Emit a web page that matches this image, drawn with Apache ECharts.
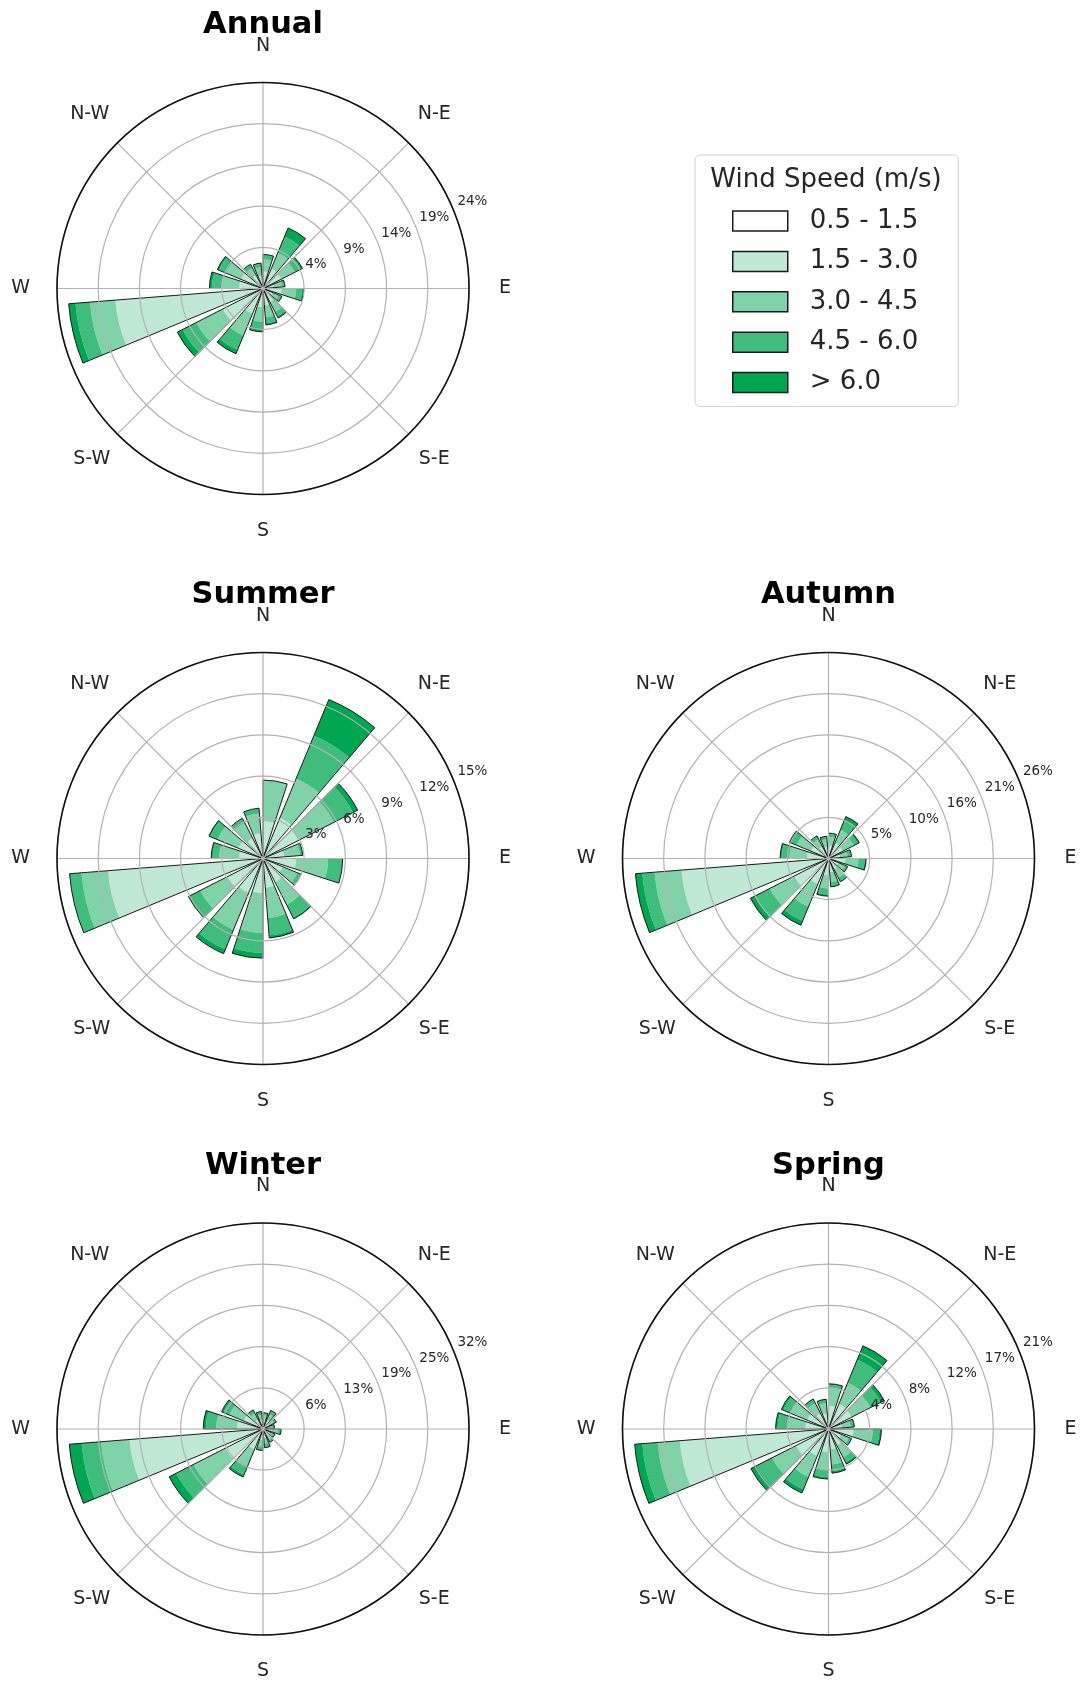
<!DOCTYPE html>
<html><head><meta charset="utf-8">
<script src="https://cdn.jsdelivr.net/npm/echarts@6/dist/echarts.min.js"></script>
<style>html,body{margin:0;padding:0;background:#fff}#c{width:1081px;height:1681px}</style>
</head><body><div id="c"></div>
<script>
// ---------- data ----------
const speedBins = ['0.5 - 1.5', '1.5 - 3.0', '3.0 - 4.5', '4.5 - 6.0', '> 6.0'];
const binColors = ['#ffffff', '#bfe9d4', '#80d3a8', '#40bc7d', '#00a651'];
const directionNames = ['N','NNE','NE','ENE','E','ESE','SE','SSE','S','SSW','SW','WSW','W','WNW','NW','NNW'];
const directionDeg = [0,22.5,45,67.5,90,112.5,135,157.5,180,202.5,225,247.5,270,292.5,315,337.5];
const compassLabels = {N:'N', NE:'N-E', E:'E', SE:'S-E', S:'S', SW:'S-W', W:'W', NW:'N-W'};
const roseTitles = ['Annual', 'Summer', 'Autumn', 'Winter', 'Spring'];
const radiusMax = [24.2, 15.5, 26.8, 31.7, 21.4];
const annualTicks = ['4%','9%','14%','19%','24%'];
const summerTicks = ['3%','6%','9%','12%','15%'];
const autumnTicks = ['5%','10%','16%','21%','26%'];
const winterTicks = ['6%','13%','19%','25%','32%'];
const springTicks = ['4%','8%','12%','17%','21%'];

// frequencies (%) per direction (N, NNE, ... NNW) for each speed bin
const annualB1 = [0.2,0.2,0.2,0.1,0.2,0.1,0.2,0.2,0.2,0.2,0.3,0.3,0.2,0.2,0.2,0.1];
const annualB2 = [1.8,2.3,2.2,1.2,2.0,1.1,1.6,1.8,2.0,3.0,5.0,17.1,2.6,2.6,1.5,1.4];
const annualB3 = [1.4,2.0,1.8,0.9,1.7,0.8,1.3,1.4,1.7,2.8,3.5,3.0,2.1,1.9,1.0,1.0];
const annualB4 = [0.5,2.1,0.8,0.3,0.7,0.3,0.6,0.7,0.9,1.8,1.8,1.7,1.1,0.9,0.4,0.4];
const annualB5 = [0.1,1.1,0.2,0.1,0.2,0.1,0.2,0.2,0.3,0.5,0.7,0.8,0.3,0.2,0.1,0.1];

const summerB1 = [0.2,0.2,0.2,0.2,0.2,0.2,0.2,0.2,0.2,0.2,0.2,0.2,0.2,0.2,0.2,0.2];
const summerB2 = [2.6,3.1,2.8,1.4,2.3,1.4,1.8,2.0,2.4,2.6,2.8,11.5,1.6,1.8,1.5,1.7];
const summerB3 = [3.1,3.2,3.0,1.2,2.4,1.2,1.9,2.3,3.0,3.0,2.3,2.0,1.5,1.7,1.3,1.5];
const summerB4 = [0.0,3.5,1.6,0.2,1.1,0.3,1.1,1.3,1.5,1.6,0.9,0.9,0.5,0.6,0.4,0.4];
const summerB5 = [0.0,2.95,0.4,0.0,0.0,0.0,0.1,0.2,0.4,0.35,0.1,0.0,0.1,0.1,0.0,0.0];

const autumnB1 = [0.2,0.2,0.2,0.2,0.2,0.2,0.2,0.2,0.2,0.2,0.2,0.2,0.2,0.2,0.2,0.2];
const autumnB2 = [1.5,2.0,1.9,1.3,2.0,1.2,1.4,1.6,2.0,3.4,4.8,19.0,2.6,2.3,1.5,1.3];
const autumnB3 = [1.1,1.8,1.6,1.0,1.7,0.9,1.2,1.3,1.7,3.2,3.6,3.5,2.3,2.0,1.1,1.0];
const autumnB4 = [0.4,1.4,0.6,0.4,0.8,0.3,0.5,0.5,0.8,2.0,2.1,1.6,1.0,0.8,0.4,0.3];
const autumnB5 = [0.1,0.5,0.2,0.1,0.2,0.1,0.1,0.1,0.2,0.6,0.7,0.9,0.2,0.2,0.1,0.1];

const winterB1 = [0.2,0.2,0.2,0.1,0.2,0.1,0.2,0.2,0.2,0.2,0.3,0.3,0.2,0.2,0.2,0.2];
const winterB2 = [1.1,1.3,1.0,0.8,1.2,0.9,1.0,1.2,1.4,3.2,6.2,20.3,3.8,3.0,1.5,1.2];
const winterB3 = [0.8,1.0,0.7,0.6,0.9,0.7,0.7,0.9,1.1,2.8,5.5,4.4,3.2,2.4,1.0,0.8];
const winterB4 = [0.3,0.45,0.3,0.25,0.4,0.25,0.3,0.45,0.45,1.4,3.0,3.0,1.6,1.0,0.45,0.4];
const winterB5 = [0.1,0.15,0.1,0.05,0.1,0.05,0.1,0.15,0.15,0.4,1.2,1.9,0.4,0.3,0.15,0.1];

const springB1 = [0.2,0.2,0.2,0.2,0.2,0.2,0.2,0.2,0.2,0.2,0.2,0.2,0.2,0.2,0.2,0.2];
const springB2 = [2.2,2.6,2.5,1.2,2.4,1.2,1.7,1.9,2.2,2.8,3.6,15.3,2.2,2.2,1.6,1.4];
const springB3 = [1.8,2.4,2.2,0.9,2.0,0.9,1.4,1.6,1.8,2.4,2.8,2.3,1.9,1.9,1.2,1.1];
const springB4 = [0.4,2.6,1.2,0.3,0.7,0.2,0.6,0.7,0.8,1.4,1.8,1.6,1.0,0.8,0.4,0.3];
const springB5 = [0.1,1.55,0.4,0.1,0.2,0.1,0.2,0.2,0.2,0.4,0.65,0.8,0.2,0.2,0.1,0.1];

// ---------- build ----------
const roseBins = [
  [annualB1, annualB2, annualB3, annualB4, annualB5],
  [summerB1, summerB2, summerB3, summerB4, summerB5],
  [autumnB1, autumnB2, autumnB3, autumnB4, autumnB5],
  [winterB1, winterB2, winterB3, winterB4, winterB5],
  [springB1, springB2, springB3, springB4, springB5]
];
const roseTicks = [annualTicks, summerTicks, autumnTicks, winterTicks, springTicks];
const centers = [[263, 288.5], [263, 858.5], [828.5, 858.5], [263, 1429], [828.5, 1429]];
const R = 206;
const HALF_OPENING = 9;          // each bar spans clockwise from its direction, 18 deg wide
const FONT = 'DejaVu Sans';
const TXT = '#262626';
const GRID = '#b3b3b3';

// label ring starts at ENE (the radius labels sit on that ray)
const labelOrder = directionNames.slice(3).concat(directionNames.slice(0, 3));
const labelPad = {
  NE: [0, 0, 0, -10],
  E: [0, 0, 0, 3],
  NW: [0, -11, 0, 0],
  SW: [-4, -12, 0, 0],
  SE: [-4, 0, 0, -9]
};

const polar = [], angleAxis = [], radiusAxis = [], series = [], title = [];

roseTitles.forEach((name, k) => {
  const c = centers[k];
  const rmax = radiusMax[k];
  const ticks = roseTicks[k];
  // polar A: bars + grid
  polar.push({center: c, radius: R});
  angleAxis.push({
    polarIndex: 2 * k, type: 'value', min: 0, max: 360, interval: 45,
    startAngle: 90, clockwise: true, z: 3,
    axisLine: {show: true, lineStyle: {color: '#111', width: 1.6}},
    axisTick: {show: false}, axisLabel: {show: false},
    splitLine: {show: true, lineStyle: {color: GRID, width: 1.2}}
  });
  radiusAxis.push({
    polarIndex: 2 * k, type: 'value', min: 0, max: rmax, interval: rmax / 5, z: 3,
    axisLine: {show: false}, axisTick: {show: false}, axisLabel: {show: false},
    splitLine: {show: true, lineStyle: {color: GRID, width: 1.2}}
  });
  // polar B: labels
  polar.push({center: c, radius: R});
  angleAxis.push({
    polarIndex: 2 * k + 1, type: 'category', boundaryGap: false,
    startAngle: 22.5, clockwise: true, z: 4,
    data: labelOrder.map(d => labelPad[d] ? {value: d, textStyle: {padding: labelPad[d]}} : d),
    axisLine: {show: false}, axisTick: {show: false}, splitLine: {show: false},
    axisLabel: {show: true, interval: 0, margin: 27, fontSize: 19, fontFamily: FONT, color: TXT,
      formatter: v => compassLabels[v] || ''}
  });
  radiusAxis.push({
    polarIndex: 2 * k + 1, type: 'value', min: 0, max: rmax, interval: rmax / 5, z: 4,
    axisLine: {show: false}, axisTick: {show: false}, splitLine: {show: false},
    axisLabel: {show: true, margin: 1, rotate: 0, align: 'left', verticalAlign: 'bottom',
      padding: [0, 0, 0, 4.5],
      fontSize: 13.5, fontFamily: FONT, color: TXT,
      formatter: (v, i) => (i === 0 ? '' : (ticks[i - 1] || ''))}
  });

  const bins = roseBins[k];
  bins.forEach((vals, b) => {
    series.push({
      type: 'bar', name: speedBins[b], coordinateSystem: 'polar', polarIndex: 2 * k,
      stack: 'rose' + k, barCategoryGap: '20%', barGap: '-100%', silent: true,
      itemStyle: {color: binColors[b], borderWidth: 0},
      data: directionDeg.map((d, i) => [vals[i], d + HALF_OPENING])
    });
  });
  const totals = directionDeg.map((d, i) => bins.reduce((s, arr) => s + arr[i], 0));
  series.push({
    type: 'bar', name: 'outline' + k, coordinateSystem: 'polar', polarIndex: 2 * k,
    barCategoryGap: '20%', barGap: '-100%', silent: true,
    itemStyle: {color: 'rgba(0,0,0,0)', borderColor: '#1a1a1a', borderWidth: 1},
    data: directionDeg.map((d, i) => [totals[i], d + HALF_OPENING])
  });

  title.push({
    text: name, left: c[0], top: c[1] - 263, textAlign: 'center', textVerticalAlign: 'middle', padding: 0,
    textStyle: {fontSize: 30.5, fontWeight: 'bold', fontFamily: FONT, color: '#000'}
  });
});

title.push({
  text: 'Wind Speed (m/s)', left: 826, top: 180, textAlign: 'center', textVerticalAlign: 'middle', padding: 0,
  textStyle: {fontSize: 26, fontWeight: 'normal', fontFamily: FONT, color: TXT}
});

const option = {
  animation: false,
  backgroundColor: '#fff',
  title: title,
  legend: {
    data: speedBins, orient: 'vertical', left: 695, top: 155,
    padding: [53, 40, 11, 37], itemGap: 14.4, itemWidth: 55, itemHeight: 20,
    icon: 'rect', selectedMode: false,
    backgroundColor: '#fff', borderColor: '#d0d0d0', borderWidth: 1, borderRadius: 5,
    itemStyle: {borderColor: '#1a1a1a', borderWidth: 1.5},
    textStyle: {fontSize: 26, fontFamily: FONT, color: TXT, lineHeight: 26, padding: [0, 0, 0, 17]}
  },
  polar: polar,
  angleAxis: angleAxis,
  radiusAxis: radiusAxis,
  series: series
};
const chart = echarts.init(document.getElementById('c'), null, {renderer: 'canvas'});
chart.setOption(option);
</script></body></html>
